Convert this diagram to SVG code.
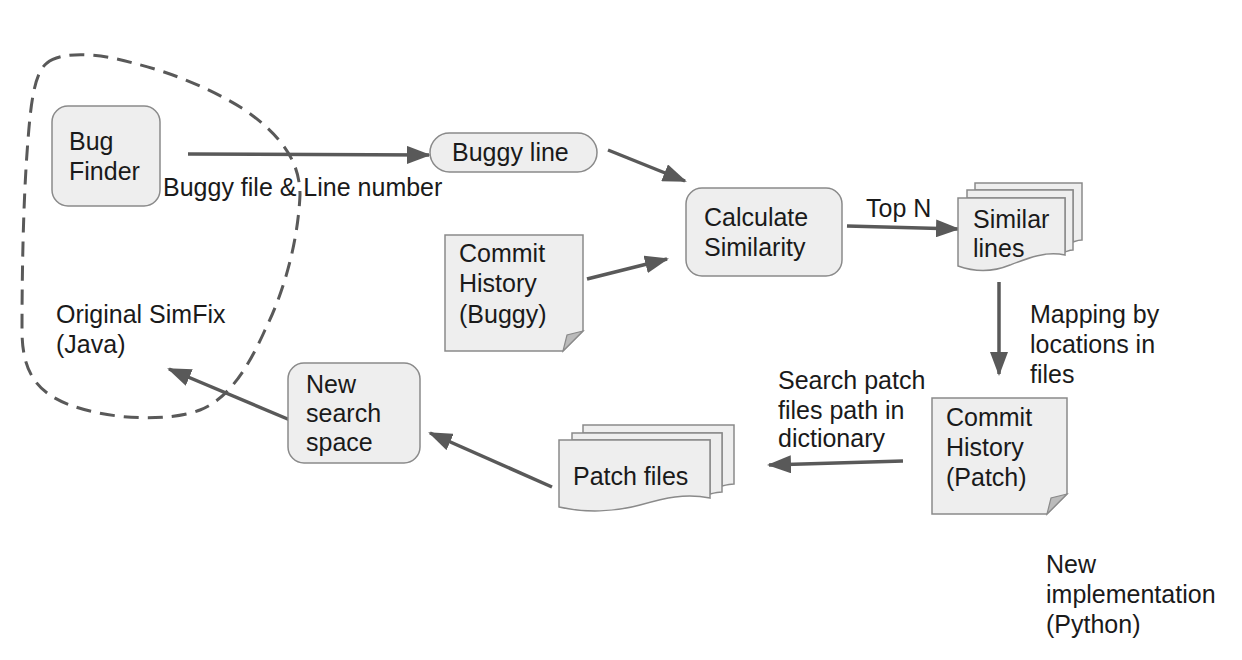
<svg xmlns="http://www.w3.org/2000/svg" width="1242" height="660" viewBox="0 0 1242 660">
<defs>
<style>
.node{fill:#eeeeee;stroke:#8a8a8a;stroke-width:1.5}
.fold{fill:#bbbbbb;stroke:#8a8a8a;stroke-width:1.2}
.t{font-family:"Liberation Sans",Arial,sans-serif;font-size:25px;fill:#1a1a1a}
.edge{stroke:#595959;stroke-width:3.5;fill:none}
.dash{stroke:#595959;stroke-width:3;fill:none;stroke-dasharray:15 9}
</style>
<marker id="ah" markerUnits="userSpaceOnUse" markerWidth="24" markerHeight="18" refX="22" refY="9" orient="auto">
<path d="M0,0 L24,9 L0,18 Z" fill="#595959"/>
</marker>
</defs>
<rect width="1242" height="660" fill="#ffffff"/>

<g id="simfix-boundary">
<path class="dash" d="M47,63 C60,52 95,52 133,63 C170,72 210,88 245,110 C280,135 300,160 300,195 C298,240 285,290 265,330 C245,375 225,400 200,410 C170,422 110,420 70,405 C35,392 22,370 22,330 C22,280 23,200 28,140 C31,100 35,72 47,63 Z"/>
<text class="t" x="56" y="323">Original SimFix</text>
<text class="t" x="56" y="353">(Java)</text>
</g>

<g id="connectors">
<line class="edge" x1="188" y1="154" x2="429" y2="155" marker-end="url(#ah)"/>
<text class="t" x="163" y="196">Buggy file &amp; Line number</text>
<line class="edge" x1="608" y1="150" x2="685" y2="181" marker-end="url(#ah)"/>
<line class="edge" x1="587" y1="279" x2="667" y2="259" marker-end="url(#ah)"/>
<line class="edge" x1="847" y1="226" x2="958" y2="229" marker-end="url(#ah)"/>
<text class="t" x="866" y="217">Top N</text>
<line class="edge" x1="999" y1="282" x2="999" y2="374" marker-end="url(#ah)"/>
<text class="t" x="1030" y="323">Mapping by</text>
<text class="t" x="1030" y="353">locations in</text>
<text class="t" x="1030" y="383">files</text>
<line class="edge" x1="903" y1="461" x2="769" y2="465" marker-end="url(#ah)"/>
<text class="t" x="778" y="389">Search patch</text>
<text class="t" x="778" y="419">files path in</text>
<text class="t" x="778" y="447">dictionary</text>
<line class="edge" x1="552" y1="487" x2="430" y2="433" marker-end="url(#ah)"/>
<line class="edge" x1="290" y1="420" x2="169" y2="369" marker-end="url(#ah)"/>
</g>

<g id="bug-finder">
<rect class="node" x="52" y="106" width="108" height="100" rx="16"/>
<text class="t" x="69" y="150">Bug</text>
<text class="t" x="69" y="180">Finder</text>
</g>

<g id="buggy-line">
<rect class="node" x="430" y="133" width="167" height="39" rx="19.5"/>
<text class="t" x="452" y="161">Buggy line</text>
</g>

<g id="calculate-similarity">
<rect class="node" x="686" y="188" width="156" height="88" rx="16"/>
<text class="t" x="704" y="226">Calculate</text>
<text class="t" x="704" y="256">Similarity</text>
</g>

<g id="commit-history-buggy">
<path class="node" d="M445,235 H583 V331 L563,351 H445 Z"/>
<path class="fold" d="M563,351 L567,335 L583,331 Z"/>
<text class="t" x="459" y="262">Commit</text>
<text class="t" x="459" y="292">History</text>
<text class="t" x="459" y="323">(Buggy)</text>
</g>

<g id="similar-lines">
<path class="node" d="M975,183 H1082 V240 C1078,240 1076,241 1073,242 L1073,190 H975 Z"/>
<path class="node" d="M967,190 H1073 V250 C1070,250 1068,251 1065,252 L1065,198 H967 Z"/>
<path class="node" d="M958,198 H1065 V255 C1045,251 1028,258 1010,265 C993,272 975,272 958,266 Z"/>
<text class="t" x="973" y="228">Similar</text>
<text class="t" x="973" y="257">lines</text>
</g>

<g id="commit-history-patch">
<path class="node" d="M932,398 H1067 V494 L1047,514 H932 Z"/>
<path class="fold" d="M1047,514 L1051,498 L1067,494 Z"/>
<text class="t" x="946" y="426">Commit</text>
<text class="t" x="946" y="456">History</text>
<text class="t" x="946" y="486">(Patch)</text>
</g>

<g id="patch-files">
<path class="node" d="M583,425 H734 V484 C730,484 726,485 722,486 L722,433 H583 Z"/>
<path class="node" d="M572,433 H722 V492 C718,492 714,493 710,494 L710,440 H572 Z"/>
<path class="node" d="M559,440 H710 V498 C685,493 665,498 640,505 C615,512 585,513 559,507 Z"/>
<text class="t" x="573" y="485">Patch files</text>
</g>

<g id="new-search-space">
<rect class="node" x="288" y="363" width="132" height="100" rx="16"/>
<text class="t" x="306" y="393">New</text>
<text class="t" x="306" y="422">search</text>
<text class="t" x="306" y="451">space</text>
</g>

<g id="new-implementation-label">
<text class="t" x="1046" y="573">New</text>
<text class="t" x="1046" y="603">implementation</text>
<text class="t" x="1046" y="633">(Python)</text>
</g>
</svg>
